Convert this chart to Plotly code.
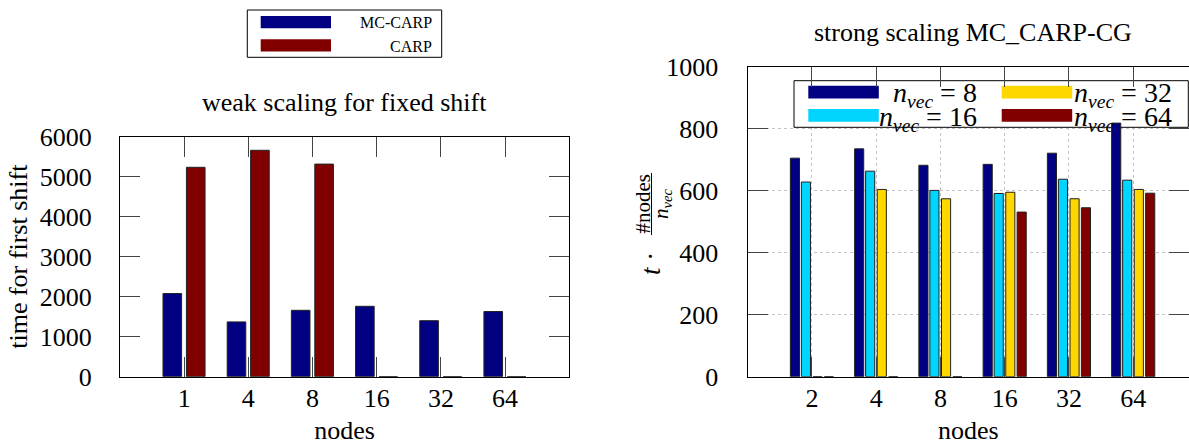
import plotly.graph_objects as go

W, H = 1189, 445

# ---------------- data ----------------
weak_nodes = ["1", "4", "8", "16", "32", "64"]
weak_series = ["MC-CARP", "CARP"]
mc_carp_time = [2080, 1370, 1660, 1760, 1400, 1630]
carp_time = [5235, 5660, 5315, 0, 0, 0]

strong_nodes = ["2", "4", "8", "16", "32", "64"]
nvec_labels = ["8", "16", "32", "64"]
nvec8 = [705, 735, 682, 685, 721, 818]
nvec16 = [628, 663, 601, 591, 637, 634]
nvec32 = [0, 604, 574, 595, 574, 604]
nvec64 = [0, 0, 0, 531, 545, 592]

# ---------------- styles ----------------
FONT = "Liberation Serif"
NAVY, MAROON, CYAN, GOLD = "#000080", "#800000", "#00d4ff", "#ffd700"
FS = 26


def px(x):
    return x / W


def py(y):
    return 1 - y / H


fig = go.Figure()

weak_vals = [mc_carp_time, carp_time]
weak_cols = [NAVY, MAROON]
weak_offs = [-0.33, 0.035]
for name, vals, col, off in zip(weak_series, weak_vals, weak_cols, weak_offs):
    fig.add_trace(go.Bar(x=weak_nodes, y=vals, name=name, marker_color=col,
                         marker_line=dict(color="#222", width=1),
                         offset=off, width=0.29, showlegend=False,
                         xaxis="x", yaxis="y"))

strong_vals = [nvec8, nvec16, nvec32, nvec64]
strong_cols = [NAVY, CYAN, GOLD, MAROON]
strong_offs = [-0.336, -0.165, 0.016, 0.193]
for lab, vals, col, off in zip(nvec_labels, strong_vals, strong_cols, strong_offs):
    fig.add_trace(go.Bar(x=strong_nodes, y=vals, name="n_vec = " + lab,
                         marker_color=col,
                         marker_line=dict(color="#222", width=1),
                         offset=off, width=0.142, showlegend=False,
                         xaxis="x2", yaxis="y2"))

axis_common = dict(showline=True, linecolor="black", linewidth=1.3,
                   mirror="ticks", ticks="inside", ticklen=20,
                   tickcolor="#444", tickwidth=1,
                   tickfont=dict(size=FS, family=FONT, color="black"),
                   zeroline=False, automargin=False)

X2_RANGE = [-1, 5.868]
Y2_RANGE = [0, 1000]
X2_PX = (747.7, 1189.0)
Y2_PX = (376.7, 66.7)

fig.update_layout(
    width=W, height=H,
    margin=dict(l=0, r=0, t=0, b=0, autoexpand=False),
    paper_bgcolor="white", plot_bgcolor="white",
    font=dict(family=FONT, color="black"),
    barmode="overlay",
    xaxis=dict(**axis_common, type="category", categoryorder="array",
               categoryarray=weak_nodes, range=[-1, 6],
               domain=[px(120), px(569.3)], anchor="y", showgrid=False,
               ticklabelstandoff=-2,
               title=dict(text="nodes", font=dict(size=FS), standoff=12)),
    yaxis=dict(**axis_common, range=[0, 6000], dtick=1000,
               domain=[py(376.7), py(136.7)], anchor="x", showgrid=False,
               ticklabelstandoff=22,
               title=dict(text="time for first shift", font=dict(size=FS),
                          standoff=4)),
    xaxis2=dict(**axis_common, type="category", categoryorder="array",
                categoryarray=strong_nodes, range=X2_RANGE,
                domain=[px(X2_PX[0]), 1.0], anchor="y2",
                showgrid=True, gridcolor="#c4c4c4", griddash="dot",
                gridwidth=1, ticklabelstandoff=-2,
                title=dict(text="nodes", font=dict(size=FS), standoff=12)),
    yaxis2=dict(**axis_common, range=Y2_RANGE, dtick=200,
                domain=[py(Y2_PX[0]), py(Y2_PX[1])], anchor="x2",
                showgrid=True, gridcolor="#c4c4c4", griddash="dot",
                gridwidth=1, ticklabelstandoff=23),
)

# ---- subplot titles ----
ann = [
    dict(text="weak scaling for fixed shift", x=px(344.6), y=py(103),
         font=dict(size=FS)),
    dict(text="strong scaling MC_CARP-CG", x=px(972.6), y=py(32),
         font=dict(size=FS)),
    # rotated y-title of right chart: t * (#nodes / n_vec)
    dict(text="<i>t</i> ·", x=px(651), y=py(264), textangle=-90,
         font=dict(size=27)),
    dict(text="#nodes", x=px(642.5), y=py(204), textangle=-90,
         font=dict(size=21)),
    dict(text="<i>n</i><sub><i>vec</i></sub>", x=px(662), y=py(204),
         textangle=-90, font=dict(size=21)),
]
for a in ann:
    a.update(xref="paper", yref="paper", showarrow=False,
             xanchor="center", yanchor="middle")
    fig.add_annotation(**a)

shapes = [dict(type="line", xref="paper", yref="paper",
               x0=px(651.5), x1=px(651.5), y0=py(173), y1=py(235),
               line=dict(color="black", width=1))]

# ---- left legend (manual, wide swatches) ----
shapes.append(dict(type="rect", xref="paper", yref="paper",
                   x0=px(247.3), x1=px(441.7), y0=py(10), y1=py(57.3),
                   line=dict(color="black", width=1), fillcolor="white",
                   layer="above"))
for i, (name, col) in enumerate(zip(weak_series, weak_cols)):
    top = 16 + i * 23.3
    shapes.append(dict(type="rect", xref="paper", yref="paper",
                       x0=px(260.7), x1=px(331), y0=py(top), y1=py(top + 12.3),
                       line=dict(width=0), fillcolor=col, layer="above"))
    fig.add_annotation(text=name, xref="paper", yref="paper",
                       x=px(433.5), y=py(top + 7), xanchor="right",
                       yanchor="middle", showarrow=False,
                       font=dict(size=16))

# ---- right legend (manual, two columns), placed in axis-2 data units ----
def dx(x):
    return X2_RANGE[0] + (x - X2_PX[0]) * (X2_RANGE[1] - X2_RANGE[0]) / (X2_PX[1] - X2_PX[0])


def dy(y):
    return Y2_RANGE[0] + (Y2_PX[0] - y) * (Y2_RANGE[1] - Y2_RANGE[0]) / (Y2_PX[0] - Y2_PX[1])


shapes.append(dict(type="rect", xref="x2", yref="y2",
                   x0=dx(794), x1=dx(1188.3), y0=dy(80.7), y1=dy(127.3),
                   line=dict(color="black", width=1), fillcolor="white",
                   layer="between"))
sw_x = [808.3, 808.3, 1001.7, 1001.7]
sw_y = [85.7, 109.0, 85.7, 109.0]
txt_r = [979, 979, 1174, 1174]
for lab, col, sx, sy, tr in zip(nvec_labels, strong_cols, sw_x, sw_y, txt_r):
    shapes.append(dict(type="rect", xref="x2", yref="y2",
                       x0=dx(sx), x1=dx(sx + 70.5), y0=dy(sy), y1=dy(sy + 12.7),
                       line=dict(width=0), fillcolor=col, layer="between"))
    fig.add_annotation(text="<i>n</i><sub><i>vec</i></sub> = " + lab,
                       xref="paper", yref="paper", x=px(tr), y=py(sy + 9),
                       xanchor="right", yanchor="middle", showarrow=False,
                       font=dict(size=28))

fig.update_layout(shapes=shapes)
fig.write_html("out.html", config={"displayModeBar": False},
               post_script="document.body.style.margin='0px';"
                           "document.body.style.overflow='hidden';")
